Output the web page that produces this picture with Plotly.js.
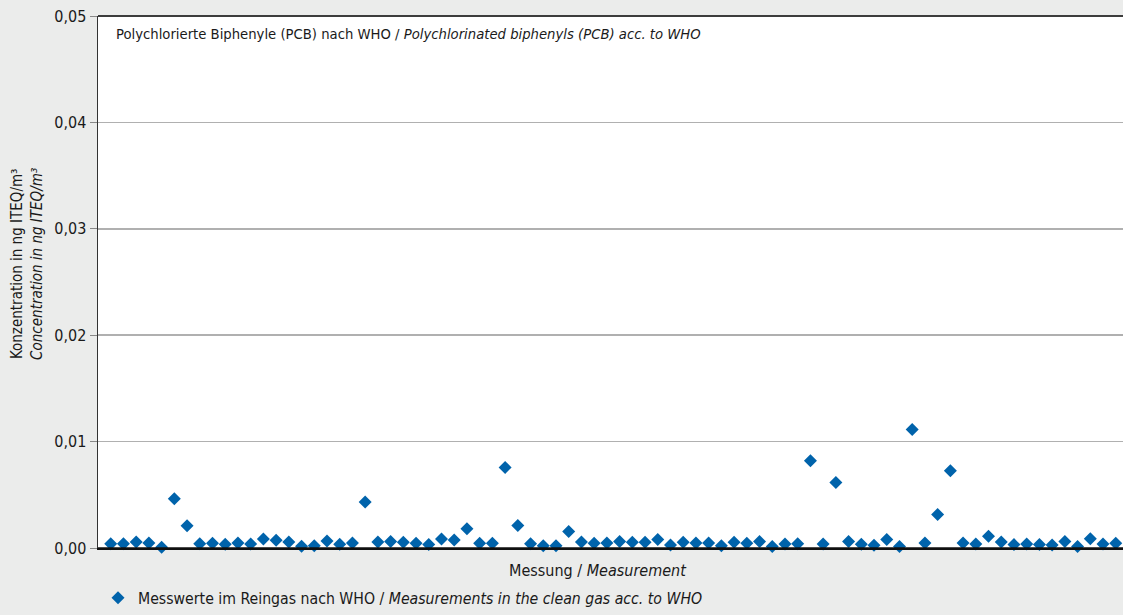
<!DOCTYPE html>
<html>
<head>
<meta charset="utf-8">
<script src="https://cdn.plot.ly/plotly-3.0.1.min.js"></script>
<style>
html,body{margin:0;padding:0;background:#ebeceb;}
#chart{width:1123px;height:615px;}
</style>
</head>
<body>
<div id="chart"></div>
<script>
// Measurement index 1..80
const measurements = Array.from({length: 80}, (_, i) => i + 1);
// Concentration in ng ITEQ/m³
const values = [
  0.00041, 0.00040, 0.00057, 0.00047, 0.00006, 0.00464, 0.00208, 0.00040, 0.00044, 0.00035,
  0.00047, 0.00038, 0.00085, 0.00073, 0.00057, 0.00016, 0.00022, 0.00066, 0.00035, 0.00047,
  0.00432, 0.00057, 0.00060, 0.00054, 0.00044, 0.00032, 0.00085, 0.00076, 0.00180, 0.00044,
  0.00044, 0.00757, 0.00211, 0.00041, 0.00022, 0.00022, 0.00155, 0.00057, 0.00044, 0.00047,
  0.00060, 0.00054, 0.00054, 0.00079, 0.00028, 0.00054, 0.00047, 0.00047, 0.00022, 0.00054,
  0.00044, 0.00060, 0.00013, 0.00038, 0.00041, 0.00820, 0.00038, 0.00615, 0.00060, 0.00035,
  0.00025, 0.00079, 0.00013, 0.01114, 0.00047, 0.00315, 0.00726, 0.00047, 0.00038, 0.00110,
  0.00057, 0.00032, 0.00038, 0.00032, 0.00028, 0.00060, 0.00013, 0.00088, 0.00038, 0.00044
];
const yTicks = [0, 0.01, 0.02, 0.03, 0.04, 0.05];
const yTickLabels = ['0,00', '0,01', '0,02', '0,03', '0,04', '0,05'];
const seriesName = 'Messwerte im Reingas nach WHO / <i>Measurements in the clean gas acc. to WHO</i>';
const chartLabel = 'Polychlorierte Biphenyle (PCB) nach WHO / <i>Polychlorinated biphenyls (PCB) acc. to WHO</i>';
const xTitle = 'Messung / <i>Measurement</i>';
const yTitle = 'Konzentration in ng ITEQ/m³<br><i>Concentration in ng ITEQ/m³</i>';

const FONT = '"Liberation Sans Narrow", "DejaVu Sans Condensed", "Roboto", sans-serif';

const trace = {
  x: measurements,
  y: values,
  type: 'scatter',
  mode: 'markers',
  name: seriesName,
  marker: {symbol: 'diamond', size: 10, color: '#0063ab'},
  showlegend: true,
  cliponaxis: false,
  hoverinfo: 'x+y'
};

const layout = {
  width: 1123,
  height: 615,
  margin: {l: 98, r: 0, t: 16, b: 67},
  paper_bgcolor: '#ebeceb',
  plot_bgcolor: '#ffffff',
  font: {family: FONT, size: 15, color: '#1a1a1a'},
  xaxis: {
    range: [0, 80.57],
    showgrid: false,
    zeroline: false,
    showticklabels: false,
    ticks: '',
    showline: true,
    linecolor: '#111111',
    linewidth: 1.5,
    mirror: false
  },
  yaxis: {
    range: [0, 0.05],
    tickvals: yTicks,
    ticktext: yTickLabels,
    showgrid: true,
    gridcolor: '#b0b0b0',
    gridwidth: 1.5,
    zeroline: false,
    showline: true,
    linecolor: '#333333',
    linewidth: 1.5,
    ticks: 'outside',
    ticklen: 7,
    tickcolor: '#888888',
    tickwidth: 1,
    tickfont: {family: FONT, size: 16, color: '#1a1a1a'}
  },
  shapes: [
    {type: 'line', xref: 'paper', yref: 'paper', x0: 0, x1: 1, y0: 1, y1: 1,
     line: {color: '#3c3c3c', width: 2}},
    {type: 'line', xref: 'paper', yref: 'paper', x0: 0, x1: 1, y0: 0, y1: 0,
     line: {color: '#111111', width: 1.5}}
  ],
  annotations: [
    {text: chartLabel, xref: 'paper', yref: 'paper', x: 0.016, y: 0.968,
     xanchor: 'left', yanchor: 'middle', showarrow: false,
     font: {family: FONT, size: 14.7, color: '#1a1a1a'}},
    {text: xTitle, xref: 'paper', yref: 'paper', x: 0.488, y: -0.042,
     xanchor: 'center', yanchor: 'middle', showarrow: false,
     font: {family: FONT, size: 16, color: '#1a1a1a'}},
    {text: yTitle, xref: 'paper', yref: 'paper', x: -0.0693, y: 0.534,
     xanchor: 'center', yanchor: 'middle', showarrow: false, textangle: -90,
     font: {family: FONT, size: 15, color: '#1a1a1a'}}
  ],
  legend: {
    orientation: 'h',
    x: 0.0, y: -0.094,
    xanchor: 'left', yanchor: 'middle',
    bgcolor: 'rgba(0,0,0,0)',
    font: {family: FONT, size: 15.7, color: '#1a1a1a'}
  }
};

Plotly.newPlot('chart', [trace], layout, {displayModeBar: false, staticPlot: true});
</script>
</body>
</html>
